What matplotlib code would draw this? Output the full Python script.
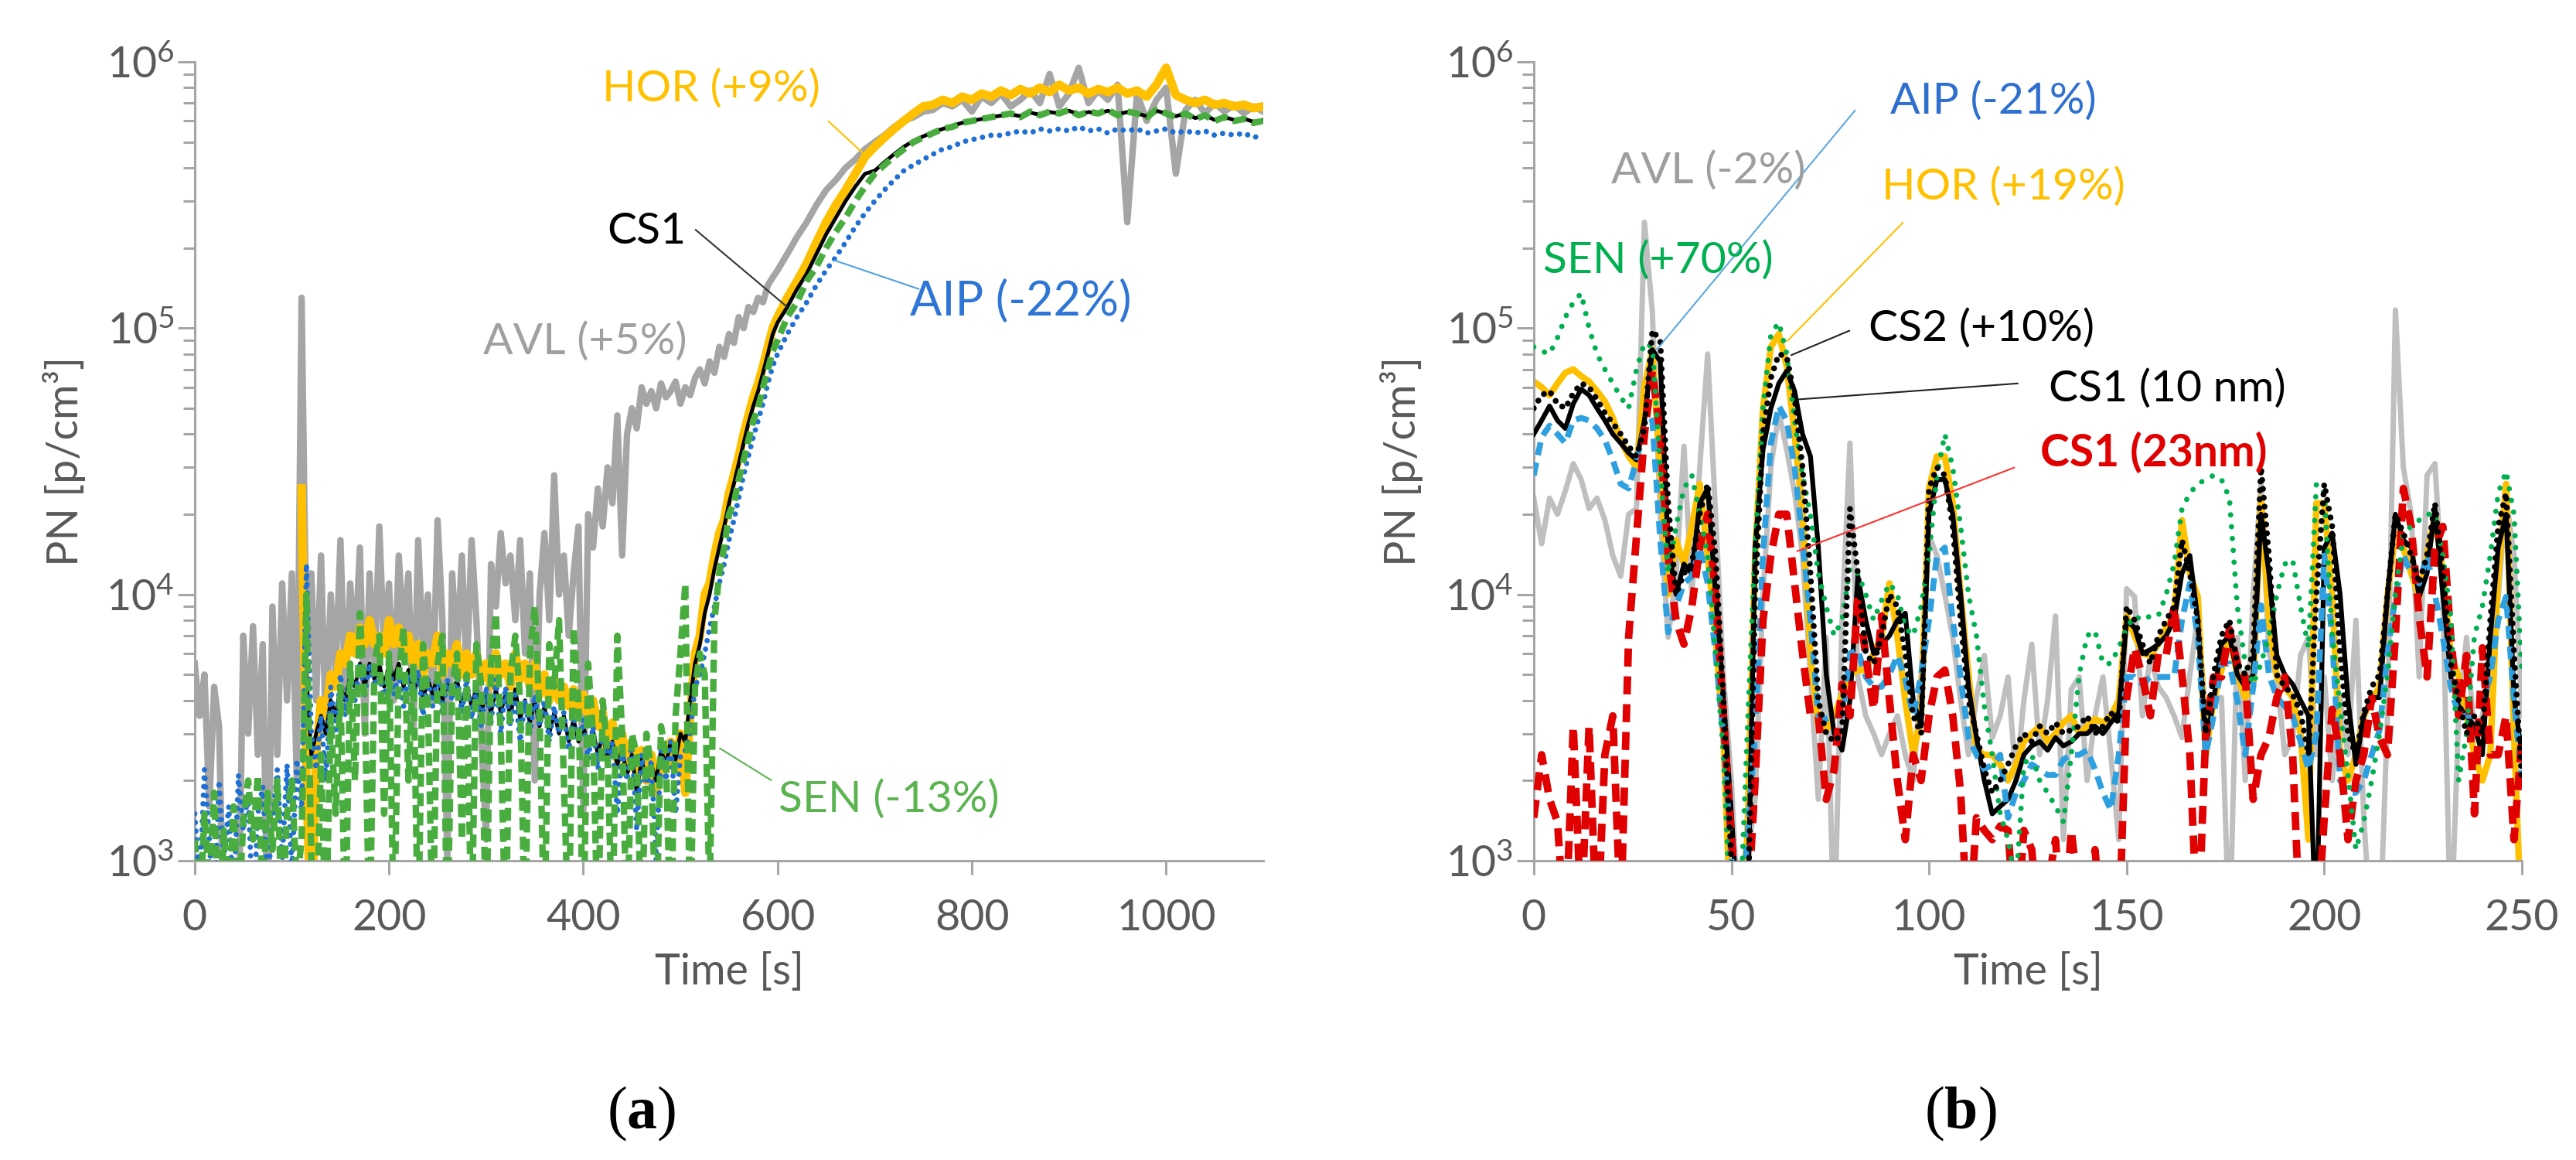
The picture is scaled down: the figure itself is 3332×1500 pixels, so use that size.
import numpy as np
import matplotlib
matplotlib.use("Agg")
import matplotlib.pyplot as plt
from matplotlib.ticker import FixedLocator, LogLocator, NullFormatter

nan = np.nan

# ═══════════════════════════════════════════════════════════════════════════
# Data (PN in 10^3 p/cm3; values below 1 fall off the bottom of the axis)
# ═══════════════════════════════════════════════════════════════════════════
# panel (a): 5 s steps up to 595 s, then 10 s steps to 1100 s
T_A = np.concatenate([np.arange(0, 600, 5), np.arange(600, 1101, 10)])

AVL_A = [
    5.5, 3.5, 5.0, 1.6, 4.5, 3.2, 0.5, 0.5, nan, 0.5,
    7.0, 3.0, 7.6, 2.5, 6.5, 0.5, 9.0, 2.5, 11, 4.0,
    12, 2.0, 130, 6.0, 12, 4.0, 14, 3.0, 10, 5.0,
    16, 4.0, 11, 6.0, 15, 3.0, 12, 5.0, 18, 6.0,
    11, 4.0, 14, 7.0, 12, 3.0, 16, 6.0, 10, 4.0,
    19, 8.0, 1.0, 12, 6.0, 14, 5.0, 16, 8.0, 3.0,
    1.2, 13, 9.0, 17, 11, 14, 8.0, 16, 6.0, 12,
    2.0, 10, 17, 8.0, 28, 10, 14, 7.0, 12, 18,
    1.5, 20, 15, 25, 18, 30, 22, 47, 14, 40,
    50, 42, 60, 52, 58, 50, 62, 55, 58, 63,
    52, 60, 56, 65, 70, 62, 75, 68, 85, 78,
    95, 88, 110, 100, 120, 115, 130, 125, 145, 155,
    165, 190, 220, 250, 290, 330, 360, 400, 430, 470,
    500, 530, 570, 600, 620, 650, 660, 700, 680, 720,
    650, 740, 700, 760, 680, 720, 780, 700, 900, 680,
    760, 950, 700, 780, 720, 820, 250, 760, 600, 720,
    800, 380, 660, 720, 640, 700, 650, 690, 640, 680,
    650]

HOR_A = [
    nan, nan, nan, nan, nan, nan, nan, nan, nan, nan,
    nan, nan, nan, nan, nan, nan, nan, nan, nan, nan,
    nan, nan, 25, 2.0, 0.5, 2.5, 4.0, 3.5, 5.0, 4.5,
    6.0, 5.5, 7.0, 6.0, 7.5, 6.5, 8.0, 6.5, 7.0, 6.0,
    8.0, 6.5, 7.5, 6.0, 7.0, 5.5, 6.5, 5.0, 6.0, 5.5,
    7.0, 5.0, 6.0, 5.5, 6.5, 5.0, 6.0, 5.0, 6.0, 4.8,
    5.5, 4.5, 6.0, 5.0, 5.5, 4.5, 6.0, 4.8, 5.5, 4.5,
    5.5, 4.2, 5.0, 4.0, 4.8, 4.0, 4.5, 3.8, 4.4, 3.6,
    4.2, 3.5, 4.0, 3.2, 3.6, 2.5, 3.3, 2.4, 3.0, 2.2,
    2.8, 2.2, 2.6, 2.0, 2.5, 1.8, 2.4, 2.2, 2.8, 2.2,
    3.0, 1.8, 3.5, 6.0, 7.0, 10, 11, 14, 17, 19,
    24, 28, 33, 40, 47, 55, 62, 72, 85, 100,
    110, 130, 150, 175, 210, 250, 290, 330, 380, 440,
    480, 520, 560, 600, 640, 680, 690, 720, 700, 740,
    720, 760, 740, 780, 750, 790, 760, 800, 770, 820,
    780, 800, 760, 790, 770, 800, 760, 780, 740, 820,
    950, 750, 720, 700, 720, 690, 700, 680, 690, 670,
    680]

CS1_A = [
    nan, nan, nan, nan, nan, nan, nan, nan, nan, nan,
    nan, nan, nan, nan, nan, nan, nan, nan, nan, nan,
    nan, nan, nan, 5.0, 2.5, 3.0, 3.5, 3.0, 4.0, 3.5,
    4.5, 4.0, 5.0, 4.5, 5.5, 4.5, 5.5, 4.8, 5.5, 4.5,
    5.5, 4.8, 5.5, 4.5, 5.2, 4.2, 5.0, 4.0, 4.8, 4.2,
    5.0, 4.0, 4.6, 4.2, 4.8, 3.8, 4.5, 3.8, 4.5, 3.6,
    4.2, 3.6, 4.4, 3.6, 4.2, 3.5, 4.4, 3.4, 4.0, 3.3,
    4.0, 3.2, 3.8, 3.0, 3.6, 3.0, 3.5, 2.8, 3.4, 2.8,
    3.2, 2.7, 3.1, 2.5, 3.0, 2.4, 2.8, 2.3, 2.6, 2.1,
    2.5, 1.8, 2.4, 2.0, 2.3, 2.0, 2.6, 2.3, 2.8, 2.4,
    3.0, 2.8, 4.0, 5.5, 6.5, 8.5, 10, 12.5, 15, 18,
    22, 26, 31, 37, 44, 51, 58, 68, 80, 95,
    105, 120, 140, 160, 190, 225, 260, 300, 340, 380,
    390, 420, 450, 480, 505, 525, 545, 560, 575, 590,
    600, 610, 620, 628, 635, 625, 645, 632, 648, 640,
    655, 635, 648, 640, 655, 635, 648, 640, 625, 655,
    640, 625, 640, 615, 630, 605, 620, 605, 612, 595,
    605]

AIP_A = [
    1.5, 0.8, 2.2, 1.2, 0.6, 2.0, 1.0, 1.6, 0.7, 2.1,
    1.3, 1.8, 0.6, 1.5, 1.9, 0.8, 1.4, 2.2, 1.0, 2.3,
    0.9, 2.4, 1.5, 13, 3.0, 2.2, 3.5, 2.0, 4.5, 3.0,
    5.0, 3.5, 5.0, 4.0, 5.5, 4.2, 5.5, 4.5, 5.0, 4.0,
    5.5, 4.2, 5.0, 3.8, 5.0, 4.0, 5.2, 3.5, 4.8, 3.8,
    5.0, 3.5, 4.8, 4.0, 5.0, 3.6, 4.8, 3.4, 4.4, 3.2,
    4.5, 3.3, 4.8, 3.0, 4.5, 3.2, 4.2, 2.8, 4.0, 3.0,
    4.2, 3.2, 4.0, 2.8, 3.8, 3.0, 3.6, 2.6, 3.5, 2.8,
    3.4, 2.4, 3.2, 2.2, 3.0, 2.3, 2.8, 1.5, 2.6, 2.0,
    2.8, 1.3, 2.5, 1.8, 2.4, 1.0, 2.6, 2.0, 2.8, 1.5,
    2.5, 2.6, 3.0, 4.5, 5.0, 6.0, 7.5, 9.0, 11, 13,
    16, 19, 23, 28, 33, 39, 45, 52, 62, 72,
    80, 95, 110, 125, 145, 165, 185, 210, 240, 270,
    300, 330, 360, 390, 410, 430, 450, 470, 480, 500,
    510, 520, 530, 530, 540, 550, 540, 560, 550, 560,
    550, 570, 550, 560, 540, 560, 550, 560, 540, 550,
    560, 540, 550, 540, 550, 530, 540, 530, 540, 520,
    530]

SEN_A = [
    1.2, 0.6, 1.5, 0.8, 1.8, 0.5, 1.3, 0.7, 1.6, 0.6,
    1.4, 2.0, 1.2, 2.1, 0.7, 1.8, 1.1, 2.0, 0.6, 1.5,
    2.0, 0.8, 1.2, 10, 1.0, 0.5, 2.5, 0.5, 3.5, 1.5,
    4.5, 0.5, 5.5, 2.0, 8.5, 4.0, 0.5, 5.5, 7.0, 1.5,
    6.0, 0.5, 5.0, 7.5, 2.0, 5.5, 0.5, 6.5, 4.0, 0.5,
    5.5, 7.0, 0.5, 4.5, 6.0, 1.2, 5.0, 0.5, 6.5, 4.5,
    0.5, 5.5, 8.5, 3.0, 0.5, 5.0, 7.0, 4.0, 0.5, 6.0,
    9.0, 3.5, 0.5, 6.5, 4.5, 8.0, 2.0, 0.5, 7.5, 4.0,
    0.5, 5.5, 3.0, 0.5, 4.0, 2.5, 0.5, 7.0, 3.0, 0.5,
    3.0, 2.5, 0.5, 3.0, 2.2, 0.5, 3.2, 2.5, 0.5, 3.5,
    6.0, 11, 0.5, 4.5, 6.0, 5.0, 0.7, 8.0, 12, 15,
    20, 22, 27, 32, 38, 45, 50, 60, 70, 82,
    90, 110, 125, 150, 170, 200, 230, 260, 300, 340,
    380, 410, 440, 470, 500, 520, 540, 560, 570, 590,
    600, 610, 620, 630, 640, 620, 650, 630, 650, 640,
    660, 630, 650, 640, 660, 630, 650, 640, 620, 660,
    640, 620, 640, 610, 630, 600, 620, 600, 610, 590,
    600]

# panel (b): 2 s steps
T_B = np.arange(0, 251, 2)

AVL_B = [
    23, 15.5, 23, 20, 24.5, 31, 27, 21, 23, 19,
    14, 11.7, 20, 21, 250, 115, 20, 6.9, 11.7, 36,
    10, 30, 80, 20, 4.9, 2.0, 0.5, 1.0, 1.7, 10,
    30, 48, 35, 24, 14, 5.0, 1.7, 6.9, 0.5, 8.0,
    37, 4.9, 3.5, 3.0, 2.5, 3.0, 3.5, 2.5, 2.0, 5.0,
    16.6, 14, 10, 6.9, 4.0, 2.5, 4.1, 5.9, 2.9, 3.5,
    4.9, 2.0, 4.0, 6.5, 2.5, 4.0, 8.3, 1.2, 4.4, 4.9,
    2.0, 3.5, 4.9, 2.5, 1.2, 10.5, 9.8, 3.5, 5.9, 4.5,
    4.1, 3.5, 2.9, 5.0, 8.3, 3.5, 4.1, 4.1, 0.5, 6.9,
    2.0, 10, 26, 6.0, 4.9, 2.5, 2.9, 5.9, 6.9, 2.5,
    4.9, 2.0, 4.1, 2.5, 8.0, 1.45, 0.5, 0.5, 3.5, 117,
    30, 20, 4.9, 28, 31, 9.8, 0.5, 3.5, 6.9, 2.9,
    3.5, 5.0, 9.8, 23, 14, 3.5]

HOR_B = [
    63, 60, 56, 62, 68, 70, 66, 63, 58, 53,
    46, 38, 33, 30, 60, 83, 28, 10, 16, 13,
    18, 26, 14, 7.0, 2.9, 0.5, 0.6, 1.2, 14, 50,
    85, 95, 72, 40, 20, 6.0, 3.2, 3.1, 3.5, 4.2,
    5.0, 5.2, 5.2, 6.0, 7.0, 11, 7.0, 4.0, 2.5, 3.5,
    25, 33, 33, 22, 10, 5.0, 2.6, 2.5, 2.5, 2.3,
    2.0, 2.3, 2.8, 3.0, 3.2, 2.8, 3.0, 3.3, 3.5, 3.0,
    3.2, 3.4, 3.3, 3.5, 4.0, 8.3, 7.0, 6.0, 5.9, 6.5,
    7.5, 8.3, 19, 12, 9.8, 2.5, 4.0, 5.2, 6.9, 5.0,
    4.1, 4.5, 23, 8.0, 4.9, 4.5, 4.1, 3.0, 1.2, 22,
    22, 10, 2.5, 2.0, 2.5, 3.5, 4.0, 4.5, 10, 17,
    15, 12, 9.8, 14, 20, 12, 6.0, 4.9, 3.5, 2.5,
    2.0, 2.5, 12, 26, 3.0, 0.5]

AIP_B = [
    28, 39, 43, 40, 37, 45, 46, 45, 42, 38,
    32, 26, 25, 32, 42, 45, 16, 7.2, 9.0, 11,
    11.7, 15, 11, 6.0, 2.9, 1.0, 0.5, 1.2, 3.0, 14,
    37, 51, 45, 30, 16, 8.0, 3.5, 3.4, 3.5, 3.5,
    6.0, 6.2, 4.9, 4.5, 4.5, 5.0, 5.9, 4.8, 3.5, 5.0,
    8.0, 14, 15, 8.0, 4.9, 2.9, 2.5, 2.2, 2.3, 2.5,
    1.45, 1.8, 2.0, 2.3, 2.2, 2.1, 2.1, 2.4, 2.5, 2.5,
    2.6, 2.2, 1.8, 1.55, 2.5, 4.9, 4.9, 4.6, 4.9, 4.9,
    4.9, 4.9, 8.0, 11, 6.9, 2.5, 3.5, 5.5, 5.5, 4.0,
    2.5, 4.5, 9.1, 5.0, 4.1, 3.8, 3.5, 2.8, 2.2, 3.0,
    14, 6.9, 2.0, 1.8, 1.8, 2.0, 2.5, 3.1, 6.0, 9.8,
    14, 12, 11, 14, 10, 6.9, 4.5, 3.5, 3.5, 3.5,
    4.0, 4.9, 8.0, 9.8, 4.0, 2.0]

SEN_B = [
    85, 82, 80, 92, 110, 125, 135, 100, 80, 70,
    62, 55, 50, 70, 88, 85, 30, 12, 18, 25,
    28, 20, 14, 6.0, 2.5, 0.5, 0.5, 3.0, 15, 50,
    95, 105, 80, 45, 28, 20, 12, 9.0, 7.0, 8.0,
    12.6, 12, 10, 8.0, 9.5, 11, 10, 7.5, 7.0, 9.0,
    14, 28, 40, 30, 18, 10, 7.0, 3.8, 2.5, 1.5,
    1.2, 0.8, 2.3, 2.5, 2.0, 1.8, 1.6, 1.4, 2.5, 5.0,
    7.0, 7.3, 5.5, 5.5, 6.3, 7.5, 8.3, 8.0, 8.3, 8.3,
    10, 13, 21, 24, 26, 27, 28, 27, 23, 9.0,
    5.5, 4.6, 5.5, 7.0, 10, 13, 13.5, 9.0, 6.3, 26,
    24, 7.0, 3.8, 2.1, 1.1, 1.4, 2.0, 3.0, 5.0, 10,
    17, 18, 19, 20, 20, 14, 8.3, 2.0, 3.0, 7.0,
    9.0, 14, 24, 29, 20, 5.0]

CS1_B = [
    40, 45, 51, 45, 42, 52, 59, 56, 50, 45,
    40, 37, 34, 32, 45, 83, 75, 15, 10, 13,
    12, 22, 25, 10, 4.1, 1.5, 0.5, 0.5, 15, 35,
    50, 62, 69, 58, 40, 33, 15, 5.0, 3.0, 2.6,
    4.0, 11.7, 8.0, 6.0, 6.5, 7.0, 8.0, 8.5, 4.0, 3.2,
    20, 27, 27, 20, 10, 4.5, 2.9, 2.0, 1.5, 1.6,
    1.7, 2.0, 2.5, 2.7, 2.8, 2.6, 2.9, 2.7, 2.8, 3.0,
    3.0, 3.2, 3.0, 3.3, 3.6, 8.0, 7.5, 6.0, 6.2, 6.5,
    7.0, 8.0, 12, 14, 8.0, 2.7, 4.0, 6.5, 7.0, 5.0,
    4.5, 5.0, 20, 12, 5.9, 5.0, 4.6, 4.0, 3.5, 0.5,
    15, 17, 10, 4.0, 2.3, 3.5, 4.1, 4.1, 10, 20,
    16, 15, 9.8, 12, 21, 10, 4.9, 3.8, 3.5, 3.2,
    2.5, 6.9, 15, 20, 4.1, 2.5]

CS2_B = [
    50, 56, 58, 52, 50, 57, 62, 60, 54, 48,
    44, 40, 36, 33, 42, 98, 90, 22, 10, 12,
    13, 20, 26, 14, 4.0, 1.0, 0.5, 0.5, 10, 40,
    65, 80, 78, 55, 30, 12, 4.0, 3.0, 2.8, 3.0,
    21, 12, 6.0, 5.5, 7.0, 10, 9.0, 6.0, 3.5, 3.0,
    25, 30, 28, 18, 8.0, 4.0, 3.0, 2.2, 1.8, 2.0,
    2.3, 2.7, 3.0, 2.8, 3.2, 3.0, 3.3, 3.0, 3.1, 3.2,
    3.5, 3.0, 3.2, 3.6, 3.3, 9.0, 8.0, 6.5, 5.5, 7.0,
    8.0, 9.0, 16, 12, 8.0, 3.0, 5.0, 7.0, 8.0, 5.5,
    5.0, 6.0, 30, 14, 5.0, 4.5, 4.2, 3.6, 2.5, 10,
    26, 18, 6.0, 3.0, 2.5, 3.6, 4.5, 5.0, 10, 20,
    17, 14, 11, 14, 22, 12, 5.5, 4.0, 3.0, 3.5,
    3.0, 8.0, 18, 24, 6.0, 2.0]

CS23_B = [
    1.45, 2.5, 1.7, 1.4, 0.5, 3.2, 0.6, 3.2, 0.5, 2.5,
    3.5, 0.6, 6.9, 16.6, 40, 69, 40, 14, 8.0, 6.5,
    9.0, 15, 20, 10, 3.5, 1.2, 0.5, 0.6, 2.0, 8.0,
    14, 20, 20, 11, 6.0, 3.5, 3.5, 1.7, 2.2, 4.6,
    3.5, 9.8, 5.9, 3.7, 8.3, 4.0, 2.0, 1.2, 2.5, 2.0,
    3.5, 4.9, 5.2, 3.5, 1.8, 0.5, 1.45, 1.3, 1.2, 1.35,
    1.3, 0.5, 1.3, 1.1, 0.5, 0.8, 1.2, 0.5, 1.3, 0.7,
    0.5, 1.1, 0.5, 0.9, 0.5, 4.1, 6.3, 4.9, 3.5, 6.0,
    5.9, 9.0, 5.0, 2.5, 0.5, 3.0, 4.9, 4.9, 7.4, 5.5,
    4.9, 1.7, 2.5, 2.9, 4.1, 4.9, 2.5, 0.5, 0.5, 0.5,
    1.45, 3.7, 2.5, 1.2, 2.0, 2.5, 4.1, 2.9, 2.5, 7.0,
    25, 18, 8.3, 4.9, 15, 18, 6.9, 3.5, 5.9, 1.5,
    6.3, 2.5, 2.5, 3.5, 1.2, 2.9]

Y_TICKS = [1e3, 1e4, 1e5, 1e6]
Y_TICK_LABELS = [r"$10^{3}$", r"$10^{4}$", r"$10^{5}$", r"$10^{6}$"]
X_TICKS_A = [0, 200, 400, 600, 800, 1000]
X_TICKS_B = [0, 50, 100, 150, 200, 250]

# ── colours ──
AXIS_GREY = "#A6A6A6"
TEXT_GREY = "#595959"
ORANGE = "#FFC000"
GREEN_A = "#48AD3E"
GREEN_B = "#00B050"
BLUE_A = "#1F6FD4"
BLUE_B = "#2EA0E0"
RED = "#E00000"

plt.rcParams.update({
    "font.family": ["Lato", "DejaVu Sans"],
    "mathtext.fontset": "custom",
    "mathtext.default": "regular",
    "mathtext.bf": "Liberation Serif:bold",
    "lines.solid_joinstyle": "round",
})

FS = 40


def k(values):
    return np.asarray(values, dtype=float) * 1e3


def style_axes(ax, xmax, xticks):
    ax.set_yscale("log")
    ax.set_ylim(1e3, 1e6)
    ax.set_xlim(0, xmax)
    for side in ("top", "right"):
        ax.spines[side].set_visible(False)
    for side in ("left", "bottom"):
        ax.spines[side].set_color(AXIS_GREY)
        ax.spines[side].set_linewidth(2.2)
    ax.yaxis.set_major_locator(FixedLocator(Y_TICKS))
    ax.set_yticklabels(Y_TICK_LABELS)
    ax.yaxis.set_minor_locator(LogLocator(base=10, subs=np.arange(2, 10)))
    ax.yaxis.set_minor_formatter(NullFormatter())
    ax.set_xticks(xticks)
    ax.tick_params(axis="both", which="both", direction="out", colors=AXIS_GREY,
                   labelcolor=TEXT_GREY, labelsize=FS, width=2.2)
    ax.tick_params(axis="y", which="major", length=16, pad=3)
    ax.tick_params(axis="y", which="minor", length=11)
    ax.tick_params(axis="x", which="major", length=13, pad=22)
    ax.set_xlabel("Time [s]", fontsize=FS, color=TEXT_GREY)
    ax.set_ylabel("PN [p/cm³]", fontsize=FS, color=TEXT_GREY)
    ax.xaxis.set_label_coords(0.5, -0.115)


def label(ax, x, y, text, color, start=None, end=None, line_color=None, size=41, **kw):
    ax.text(x, y, text, color=color, fontsize=size, ha="center", va="center",
            zorder=20, **kw)
    if start is not None:
        ax.plot([start[0], end[0]], [start[1], end[1]], color=line_color or color,
                lw=1.5, zorder=19, solid_capstyle="butt")


fig = plt.figure(figsize=(33.32, 15), dpi=100)
ax_a = fig.add_axes([0.0756, 0.258, 0.4148, 0.6887])
ax_b = fig.add_axes([0.5954, 0.258, 0.3836, 0.6887])

# ═══════════════════════════════════════════════════════════════════════════
# Panel (a)
# ═══════════════════════════════════════════════════════════════════════════
ax_a.plot(T_A, k(AVL_A), color="#A5A5A5", lw=6, zorder=1)
ax_a.plot(T_A, k(HOR_A), color=ORANGE, lw=8, zorder=2)
ax_a.plot(T_A, k(CS1_A), color="black", lw=3.5, zorder=3)
ax_a.plot(T_A, k(AIP_A), color=BLUE_A, lw=5, zorder=4,
          linestyle=(0, (0.01, 1.6)), dash_capstyle="round")
ax_a.plot(T_A, k(SEN_A), color=GREEN_A, lw=6, zorder=5,
          linestyle=(0, (2.0, 1.0)), dash_capstyle="butt")
style_axes(ax_a, 1100, X_TICKS_A)
ax_a.yaxis.set_label_coords(-0.102, 0.5)

label(ax_a, 532, 7.9e5, "HOR (+9%)", ORANGE, (652, 6.0e5), (692, 4.4e5))
label(ax_a, 465, 2.3e5, "CS1", "black", (515, 2.35e5), (610, 1.2e5), "#333333")
label(ax_a, 402, 8.9e4, "AVL (+5%)", "#A0A0A0")
label(ax_a, 850, 1.26e5, "AIP (-22%)", "#2E75D6", (746, 1.4e5), (658, 1.8e5), "#4DA3E0",
      size=44)
label(ax_a, 715, 1.7e3, "SEN (-13%)", "#5BB450", (594, 2.0e3), (540, 2.65e3))

# ═══════════════════════════════════════════════════════════════════════════
# Panel (b)
# ═══════════════════════════════════════════════════════════════════════════
ax_b.plot(T_B, k(AVL_B), color="#BFBFBF", lw=5, zorder=1)
ax_b.plot(T_B, k(HOR_B), color=ORANGE, lw=6, zorder=2)
ax_b.plot(T_B, k(CS1_B), color="black", lw=4.5, zorder=3)
ax_b.plot(T_B, k(AIP_B), color=BLUE_B, lw=5.5, zorder=4,
          linestyle=(0, (2.2, 1.3)), dash_capstyle="butt")
ax_b.plot(T_B, k(CS23_B), color=RED, lw=7, zorder=5,
          linestyle=(0, (2.4, 1.3)), dash_capstyle="butt")
ax_b.plot(T_B, k(SEN_B), color=GREEN_B, lw=5, zorder=6,
          linestyle=(0, (0.01, 2.2)), dash_capstyle="round")
ax_b.plot(T_B, k(CS2_B), color="black", lw=5.5, zorder=7,
          linestyle=(0, (0.01, 1.5)), dash_capstyle="round")
style_axes(ax_b, 250, X_TICKS_B)
ax_b.yaxis.set_label_coords(-0.112, 0.5)

label(ax_b, 116.2, 7.1e5, "AIP (-21%)", "#2E6FD0", (81.4, 6.6e5), (31.1, 8.3e4), "#5BA8E0")
label(ax_b, 44.2, 3.9e5, "AVL (-2%)", "#9E9E9E")
label(ax_b, 118.9, 3.4e5, "HOR (+19%)", ORANGE, (93.5, 2.5e5), (64, 8.9e4))
label(ax_b, 31.5, 1.8e5, "SEN (+70%)", GREEN_B)
label(ax_b, 113.3, 1.0e5, "CS2 (+10%)", "black", (80, 9.8e4), (65, 7.9e4), "#222222")
label(ax_b, 160.2, 5.9e4, "CS1 (10 nm)", "black", (122.6, 6.2e4), (66.9, 5.4e4), "#222222")
label(ax_b, 156.9, 3.4e4, "CS1 (23nm)", RED, (121.7, 3.0e4), (66.5, 1.45e4), "#FF3030",
      fontweight="bold")

# ── panel letters ──
for xf, letter in ((0.249, "a"), (0.761, "b")):
    fig.text(xf, 0.04, "($\\mathbf{%s}$)" % letter,
             family="Liberation Serif", fontsize=56, ha="center", va="center",
             color="black")

fig.savefig("out.png", dpi=100)
plt.close(fig)
